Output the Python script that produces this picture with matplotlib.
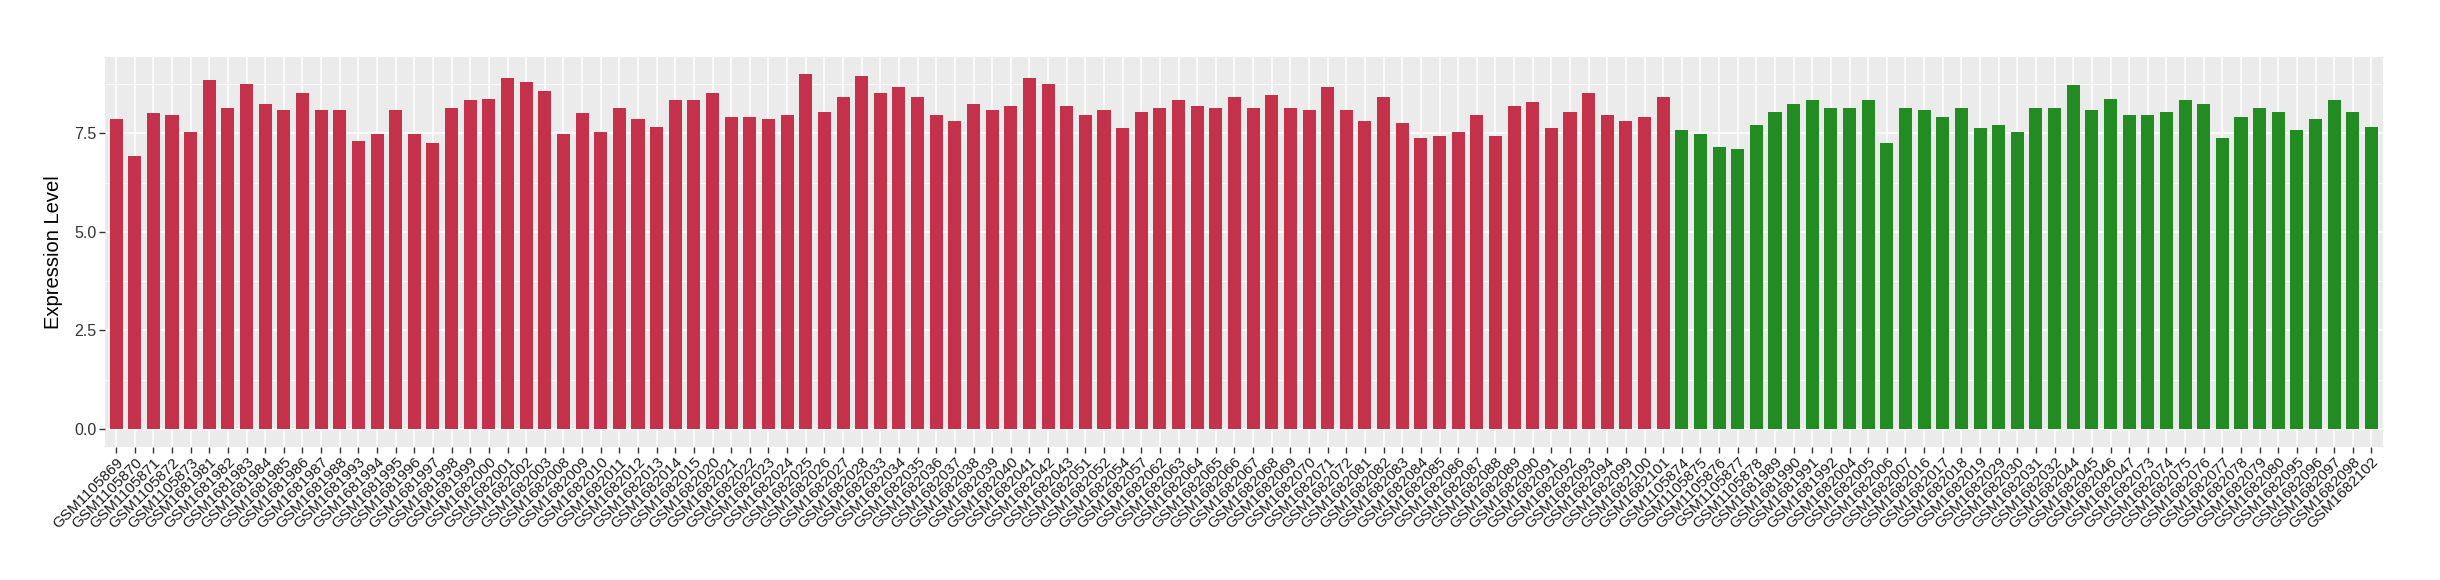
import numpy as np
import matplotlib
matplotlib.use("Agg")
import matplotlib.pyplot as plt
from matplotlib.ticker import MultipleLocator

plt.rcParams['font.family'] = ['Liberation Sans', 'DejaVu Sans']

# samples and expression values
red_samples = [
    "GSM1105869", "GSM1105870", "GSM1105871", "GSM1105872", "GSM1105873",
    "GSM1681981", "GSM1681982", "GSM1681983", "GSM1681984", "GSM1681985",
    "GSM1681986", "GSM1681987", "GSM1681988", "GSM1681993", "GSM1681994",
    "GSM1681995", "GSM1681996", "GSM1681997", "GSM1681998", "GSM1681999",
    "GSM1682000", "GSM1682001", "GSM1682002", "GSM1682003", "GSM1682008",
    "GSM1682009", "GSM1682010", "GSM1682011", "GSM1682012", "GSM1682013",
    "GSM1682014", "GSM1682015", "GSM1682020", "GSM1682021", "GSM1682022",
    "GSM1682023", "GSM1682024", "GSM1682025", "GSM1682026", "GSM1682027",
    "GSM1682028", "GSM1682033", "GSM1682034", "GSM1682035", "GSM1682036",
    "GSM1682037", "GSM1682038", "GSM1682039", "GSM1682040", "GSM1682041",
    "GSM1682042", "GSM1682043", "GSM1682051", "GSM1682052", "GSM1682054",
    "GSM1682057", "GSM1682062", "GSM1682063", "GSM1682064", "GSM1682065",
    "GSM1682066", "GSM1682067", "GSM1682068", "GSM1682069", "GSM1682070",
    "GSM1682071", "GSM1682072", "GSM1682081", "GSM1682082", "GSM1682083",
    "GSM1682084", "GSM1682085", "GSM1682086", "GSM1682087", "GSM1682088",
    "GSM1682089", "GSM1682090", "GSM1682091", "GSM1682092", "GSM1682093",
    "GSM1682094", "GSM1682099", "GSM1682100", "GSM1682101",
]
red_values = [
    7.85, 6.91, 8.00, 7.95, 7.54, 8.86, 8.13, 8.76, 8.25, 8.08,
    8.51, 8.08, 8.08, 7.31, 7.47, 8.10, 7.47, 7.26, 8.15, 8.33,
    8.38, 8.91, 8.79, 8.56, 7.49, 8.00, 7.54, 8.13, 7.85, 7.67,
    8.35, 8.33, 8.53, 7.92, 7.92, 7.87, 7.97, 8.99, 8.03, 8.43,
    8.94, 8.53, 8.66, 8.41, 7.97, 7.80, 8.25, 8.08, 8.20, 8.89,
    8.74, 8.18, 7.97, 8.10, 7.64, 8.05, 8.15, 8.35, 8.20, 8.13,
    8.43, 8.15, 8.46, 8.13, 8.08, 8.66, 8.08, 7.80, 8.41, 7.77,
    7.37, 7.42, 7.54, 7.95, 7.44, 8.18, 8.28, 7.64, 8.05, 8.53,
    7.95, 7.80, 7.90, 8.43,
]
green_samples = [
    "GSM1105874", "GSM1105875", "GSM1105876", "GSM1105877", "GSM1105878",
    "GSM1681989", "GSM1681990", "GSM1681991", "GSM1681992", "GSM1682004",
    "GSM1682005", "GSM1682006", "GSM1682007", "GSM1682016", "GSM1682017",
    "GSM1682018", "GSM1682019", "GSM1682029", "GSM1682030", "GSM1682031",
    "GSM1682032", "GSM1682044", "GSM1682045", "GSM1682046", "GSM1682047",
    "GSM1682073", "GSM1682074", "GSM1682075", "GSM1682076", "GSM1682077",
    "GSM1682078", "GSM1682079", "GSM1682080", "GSM1682095", "GSM1682096",
    "GSM1682097", "GSM1682098", "GSM1682102",
]
green_values = [
    7.59, 7.47, 7.16, 7.09, 7.70, 8.03, 8.23, 8.33, 8.13, 8.15,
    8.33, 7.24, 8.13, 8.08, 7.92, 8.15, 7.62, 7.70, 7.54, 8.15,
    8.13, 8.71, 8.10, 8.38, 7.97, 7.97, 8.03, 8.35, 8.25, 7.39,
    7.90, 8.15, 8.03, 7.57, 7.85, 8.33, 8.05, 7.67,
]

red_color = "#C3314A"
green_color = "#228B22"

samples = red_samples + green_samples
values = red_values + green_values
colors = [red_color] * len(red_samples) + [green_color] * len(green_samples)
x = np.arange(len(samples))

fig = plt.figure(figsize=(24.4, 5.8), dpi=100)
ax = fig.add_axes([0.043, 0.2298, 0.9335, 0.6724])
ax.set_facecolor("#EBEBEB")

# ggplot-ish grid
ax.yaxis.set_major_locator(MultipleLocator(2.5))
ax.yaxis.set_minor_locator(MultipleLocator(1.25))
ax.grid(True, which="major", color="white", linewidth=1.1)
ax.grid(True, which="minor", axis="y", color="white", linewidth=0.55)
ax.set_axisbelow(True)

ax.bar(x, values, width=0.7, color=colors, zorder=2)

ymax = max(values)
ax.set_ylim(-0.05 * ymax, 1.05 * ymax)
ax.set_xlim(-0.6, len(samples) - 0.4)

ax.set_xticks(x)
ax.set_xticklabels(samples, rotation=45, ha="right", va="top",
                   rotation_mode="anchor", fontsize=11, color="#1A1A1A")
ax.set_yticks([0, 2.5, 5.0, 7.5])
ax.set_yticklabels(["0.0", "2.5", "5.0", "7.5"], fontsize=11.5, color="#333333")
ax.tick_params(axis="both", which="major", length=4, width=1, color="#333333", pad=2)
ax.tick_params(axis="y", which="minor", length=0)

for s in ax.spines.values():
    s.set_visible(False)

ax.set_ylabel("Expression Level", fontsize=14.5, labelpad=8)

fig.savefig("out.png", dpi=100)
